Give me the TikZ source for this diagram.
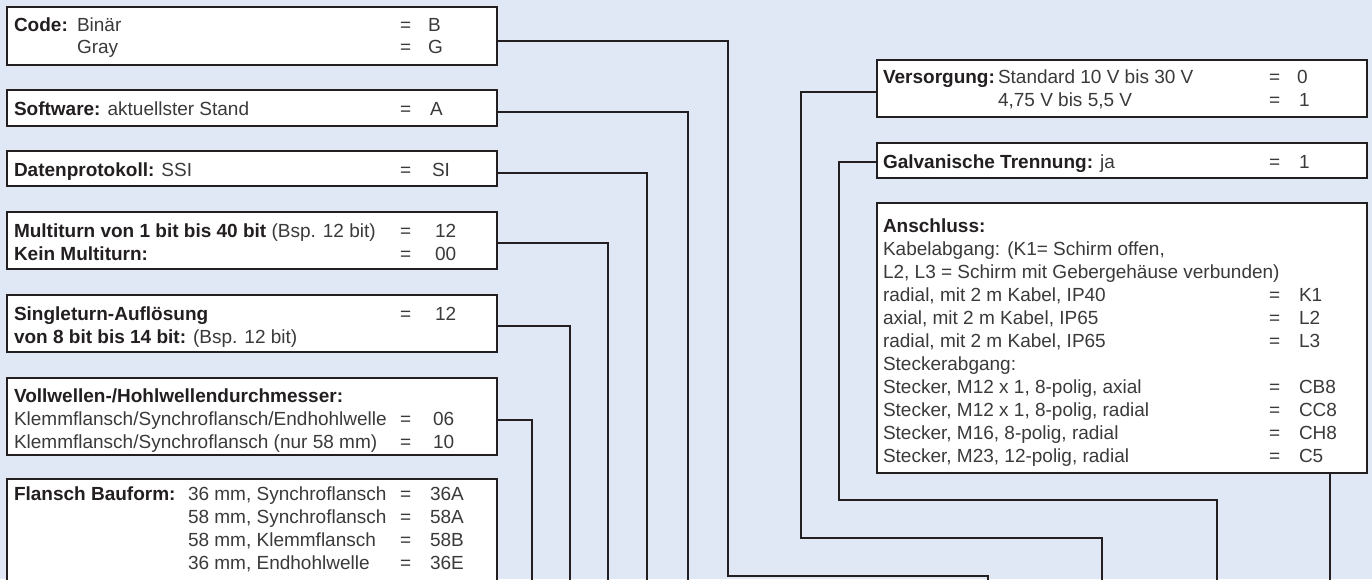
\documentclass[tikz,border=0pt]{standalone}
\usepackage{fontspec}
\setmainfont{Liberation Sans}
\definecolor{bgc}{HTML}{E1E8F5}
\definecolor{ink}{HTML}{231F20}
\definecolor{lite}{HTML}{3A3A3A}
\newcommand\mytext[4]{\node[txt] (#1) at (#2,#3) {#4};}
\newcommand\myeq[5]{\node[txt] (#1e) at (#2,#4) {=};\node[txt] (#1v) at (#3,#4) {#5};}
\newcommand\hb[1]{{\color{ink}\bfseries #1}}
\begin{document}
\begin{tikzpicture}[x=1pt,y=-1pt,
  box/.style={draw=ink,line width=2.6pt,fill=white,rectangle,inner sep=0pt,outer sep=0pt,anchor=north west},
  conn/.style={draw=ink,line width=1.8pt},
  txt/.style={anchor=base west,inner sep=0pt,outer sep=0pt,text=lite,font=\fontsize{19}{23}\selectfont}]
\clip (0,0) rectangle (1372,579);
\fill[bgc] (0,0) rectangle (1372,579);
% connectors (drawn first)
\coordinate (codeEnd) at (988,590);
\coordinate (softEnd) at (688,590);
\coordinate (datEnd) at (647,590);
\coordinate (mulEnd) at (608,590);
\coordinate (sinEnd) at (570,590);
\coordinate (volEnd) at (532,590);
\coordinate (verEnd) at (1102,590);
\coordinate (galEnd) at (1217,590);
\coordinate (ansEnd) at (1330,590);
% boxes
\node[box,minimum width=490pt,minimum height=58pt] (code) at (7,7) {};
\node[box,minimum width=490pt,minimum height=36pt] (soft) at (7,90) {};
\node[box,minimum width=490pt,minimum height=35pt] (dat) at (7,151) {};
\node[box,minimum width=490pt,minimum height=57pt] (mul) at (7,212) {};
\node[box,minimum width=490pt,minimum height=57pt] (sin) at (7,295) {};
\node[box,minimum width=490pt,minimum height=77pt] (vol) at (7,378) {};
\node[box,minimum width=490pt,minimum height=130pt] (fla) at (7,479) {};
\node[box,minimum width=490pt,minimum height=57pt] (ver) at (877,60) {};
\node[box,minimum width=490pt,minimum height=35pt] (gal) at (877,143) {};
\node[box,minimum width=490pt,minimum height=270pt] (ans) at (877,203) {};
% connector paths
\draw[conn] ([yshift=-5pt]code.east) -| (728,576) -| (codeEnd);
\draw[conn] ([yshift=-4pt]soft.east) -| (softEnd);
\draw[conn] ([yshift=-4.5pt]dat.east) -| (datEnd);
\draw[conn] ([yshift=-2.5pt]mul.east) -| (mulEnd);
\draw[conn] ([yshift=-2.5pt]sin.east) -| (sinEnd);
\draw[conn] ([yshift=-3.5pt]vol.east) -| (volEnd);
\draw[conn] ([yshift=-3.5pt]ver.west) -| (801,538) -| (verEnd);
\draw[conn] ([yshift=-1.5pt]gal.west) -| (839,500) -| (galEnd);
\draw[conn] (ans.south -| ansEnd) -- (ansEnd);
% Code
\mytext{c1}{14}{31}{\hb{Code:}}
\mytext{c2}{77}{31}{Binär}
\myeq{c3}{400}{428}{31}{B}
\mytext{c4}{77}{53}{Gray}
\myeq{c5}{400}{428}{53}{G}
% Software
\mytext{s1}{14}{115}{\hb{Software:} aktuellster Stand}
\myeq{s2}{400}{430}{115}{A}
% Datenprotokoll
\mytext{d1}{14}{176}{\hb{Datenprotokoll:} SSI}
\myeq{d2}{400}{432}{176}{SI}
% Multiturn
\mytext{m1}{14}{237}{\hb{Multiturn von 1 bit bis 40 bit} (Bsp. 12 bit)}
\myeq{m2}{400}{435}{237}{12}
\mytext{m3}{14}{260}{\hb{Kein Multiturn:}}
\myeq{m4}{400}{435}{260}{00}
% Singleturn
\mytext{n1}{14}{320}{\hb{Singleturn-Auflösung}}
\myeq{n2}{400}{435}{320}{12}
\mytext{n3}{14}{343}{\hb{von 8 bit bis 14 bit:} (Bsp. 12 bit)}
% Vollwellen
\mytext{v1}{14}{402}{\hb{Vollwellen-/Hohlwellendurchmesser:}}
\mytext{v2}{14}{425}{Klemmflansch/Synchroflansch/Endhohlwelle}
\myeq{v3}{400}{433}{425}{06}
\mytext{v4}{14}{448}{Klemmflansch/Synchroflansch (nur 58 mm)}
\myeq{v5}{400}{433}{448}{10}
% Flansch
\mytext{f1}{14}{500}{\hb{Flansch Bauform:}}
\mytext{f2}{188}{500}{36 mm, Synchroflansch}
\myeq{f3}{400}{430}{500}{36A}
\mytext{f4}{188}{523}{58 mm, Synchroflansch}
\myeq{f5}{400}{430}{523}{58A}
\mytext{f6}{188}{546}{58 mm, Klemmflansch}
\myeq{f7}{400}{430}{546}{58B}
\mytext{f8}{188}{569}{36 mm, Endhohlwelle}
\myeq{f9}{400}{430}{569}{36E}
% Versorgung
\mytext{r1}{883}{83}{\hb{Versorgung:}}
\mytext{r2}{998}{83}{Standard 10 V bis 30 V}
\myeq{r3}{1269}{1297}{83}{0}
\mytext{r4}{998}{106}{4,75 V bis 5,5 V}
\myeq{r5}{1269}{1299}{106}{1}
% Galvanische
\mytext{g1}{883}{168}{\hb{Galvanische Trennung:} ja}
\myeq{g2}{1269}{1299}{168}{1}
% Anschluss
\mytext{a0}{883}{232}{\hb{Anschluss:}}
\mytext{a1}{883}{255}{Kabelabgang: (K1= Schirm offen,}
\mytext{a2}{883}{278}{L2, L3 = Schirm mit Gebergehäuse verbunden)}
\mytext{a3}{883}{301}{radial, mit 2 m Kabel, IP40}
\myeq{a3x}{1269}{1299}{301}{K1}
\mytext{a4}{883}{324}{axial, mit 2 m Kabel, IP65}
\myeq{a4x}{1269}{1299}{324}{L2}
\mytext{a5}{883}{347}{radial, mit 2 m Kabel, IP65}
\myeq{a5x}{1269}{1299}{347}{L3}
\mytext{a6}{883}{370}{Steckerabgang:}
\mytext{a7}{883}{393}{Stecker, M12 x 1, 8-polig, axial}
\myeq{a7x}{1269}{1299}{393}{CB8}
\mytext{a8}{883}{416}{Stecker, M12 x 1, 8-polig, radial}
\myeq{a8x}{1269}{1299}{416}{CC8}
\mytext{a9}{883}{439}{Stecker, M16, 8-polig, radial}
\myeq{a9x}{1269}{1299}{439}{CH8}
\mytext{a10}{883}{462}{Stecker, M23, 12-polig, radial}
\myeq{a10x}{1269}{1299}{462}{C5}
\end{tikzpicture}
\end{document}
